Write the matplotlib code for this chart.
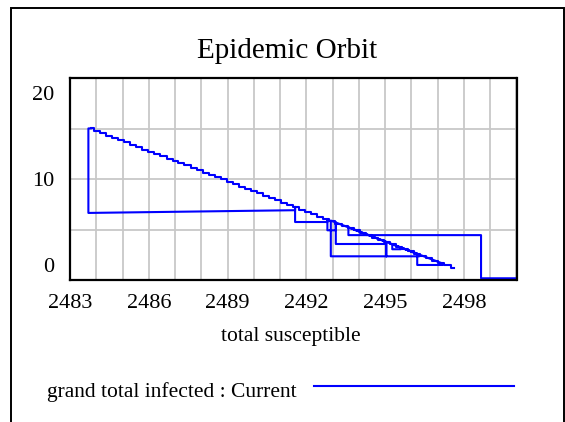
import matplotlib
matplotlib.use('Agg')
import matplotlib.pyplot as plt
from matplotlib.patches import Rectangle
from matplotlib.lines import Line2D
from matplotlib.ticker import MultipleLocator

plt.rcParams['font.family'] = ['Liberation Serif', 'DejaVu Serif']

# ---- data ----
# staircase along the main diagonal (total susceptible, grand total infected)
diag_S = [2483.79, 2484.03, 2484.24, 2484.50, 2484.71, 2484.95, 2485.16, 2485.42, 2485.63, 2485.88,
          2486.09, 2486.33, 2486.55, 2486.80, 2487.01, 2487.25, 2487.46, 2487.72, 2487.93, 2488.17,
          2488.39, 2488.63, 2488.84, 2489.10, 2489.31, 2489.55, 2489.76, 2490.02, 2490.23, 2490.47,
          2490.68, 2490.93, 2491.15, 2491.39, 2491.61, 2491.85, 2492.06, 2492.31, 2492.53, 2492.77,
          2492.98, 2493.23, 2493.45, 2493.69, 2493.90, 2494.15, 2494.37, 2494.61, 2494.82, 2495.07,
          2495.29, 2495.53, 2495.74, 2495.99, 2496.21, 2496.45, 2496.66, 2496.91, 2497.13, 2497.37, 2497.62]
diag_I = [15.03, 14.79, 14.58, 14.32, 14.11, 13.87, 13.66, 13.40, 13.19, 12.94,
          12.73, 12.49, 12.27, 12.02, 11.81, 11.57, 11.36, 11.10, 10.89, 10.65,
          10.43, 10.19, 9.98, 9.72, 9.51, 9.27, 9.06, 8.80, 8.59, 8.35,
          8.14, 7.89, 7.67, 7.43, 7.21, 6.97, 6.76, 6.51, 6.29, 6.05,
          5.84, 5.59, 5.37, 5.13, 4.92, 4.67, 4.45, 4.21, 4.00, 3.75,
          3.53, 3.29, 3.08, 2.83, 2.61, 2.37, 2.16, 1.91, 1.69, 1.45, 1.20]

# drops and returns hanging off the diagonal
loop_S = [2483.79, 2483.70, 2483.70, 2491.57, 2491.57, 2491.57, 2492.80, 2492.80,
          2492.80, 2493.12, 2493.12, 2493.12, 2495.04, 2495.04, 2495.04, 2492.93,
          2492.93, 2496.30, 2496.30, 2495.27, 2495.27, 2495.60, 2495.60, 2496.22,
          2496.22, 2497.20, 2497.20, 2493.60, 2493.60, 2498.65, 2498.65, 2500.60]
loop_I = [15.03, 15.03, 6.65, 6.92, 7.25, 5.75, 5.75, 6.02,
          4.93, 4.93, 5.70, 3.57, 3.57, 2.35, 3.78, 5.89,
          2.35, 2.35, 2.52, 3.55, 3.05, 3.05, 3.22, 2.60,
          1.49, 1.49, 1.62, 5.22, 4.45, 4.45, 0.17, 0.17]

x_tick_labels = [2483, 2486, 2489, 2492, 2495, 2498]
y_tick_labels = [0, 10, 20]
# how far (pixels, downward) each y label sits from its value, as in the reference
y_label_shift_px = {0: -12, 10: 2, 20: 17}

title = "Epidemic Orbit"
x_label = "total susceptible"
legend_label = "grand total infected : Current"

W, H = 565, 422
BLUE = '#0000ff'

fig = plt.figure(figsize=(W / 100, H / 100), dpi=100)
fig.patch.set_facecolor('white')

# outer frame
fig.patches.append(Rectangle((11 / W, -0.1), (564 - 11) / W, 1 - 8 / H + 0.1,
                             transform=fig.transFigure, fill=False,
                             edgecolor='black', linewidth=1.4))

ax = fig.add_axes([70 / W, 1 - 280 / H, 446.5 / W, 201.7 / H])
ax.plot(diag_S, diag_I, color=BLUE, lw=1.5, drawstyle='steps-mid')
ax.plot(loop_S, loop_I, color=BLUE, lw=1.5)

ax.set_xlim(2483, 2500)
ax.set_ylim(0, 20)
ax.set_xticks(x_tick_labels)
ax.set_xticklabels([str(v) for v in x_tick_labels], fontsize=16)
ax.xaxis.set_minor_locator(MultipleLocator(1))
ax.yaxis.set_major_locator(MultipleLocator(5))
ax.set_yticklabels([])
ax.tick_params(which='both', length=0)
ax.tick_params(axis='x', pad=10)
ax.grid(True, which='both', color='#c8c8c8', lw=1.3)
ax.set_axisbelow(True)
for s in ax.spines.values():
    s.set_linewidth(1.6)
    s.set_color('black')

for v in y_tick_labels:
    ax.annotate(str(v), xy=(0, v), xycoords=('axes fraction', 'data'),
                xytext=(-16 * 0.72, -y_label_shift_px[v] * 0.72),
                textcoords='offset points', ha='right', va='center', fontsize=16)

fig.text(287 / W, 1 - 51 / H, title, ha='center', va='center', fontsize=21)
fig.text(291 / W, 1 - 336 / H, x_label, ha='center', va='center', fontsize=15.5)
fig.text(47 / W, 1 - 392 / H, legend_label, ha='left', va='center', fontsize=15.5)
fig.lines.append(Line2D([313.5 / W, 513.5 / W], [1 - 385.5 / H, 1 - 385.5 / H],
                        transform=fig.transFigure, color=BLUE, lw=1.5))

fig.savefig('out.png', dpi=100)
